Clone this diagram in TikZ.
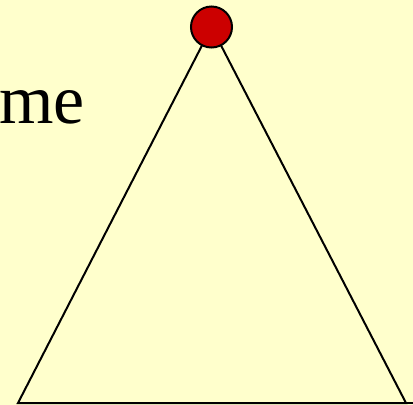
\documentclass[tikz,border=0pt]{standalone}
\usepackage{fontspec}
\setmainfont{Liberation Serif}
\definecolor{bg}{HTML}{FFFFCC}
\definecolor{ballred}{HTML}{CC0000}
\begin{document}
\begin{tikzpicture}[x=1bp,y=-1bp,
  edge/.style={draw=black,line width=2bp},
  ball/.style={circle,draw=black,line width=2bp,fill=ballred,minimum size=41bp,inner sep=0pt}]
\fill[bg] (0,0) rectangle (413,405);
\useasboundingbox (0,0) rectangle (413,405);
\coordinate (bl) at (18,403);
\coordinate (br) at (406,403);
\coordinate (apex) at (211.5,27);
\draw[edge,line join=miter] (bl) -- (apex) -- (br) -- cycle;
\draw[edge] (br) -- (414,403);
\node[ball] (top) at (apex) {};
\node[anchor=base west,inner sep=0pt,font=\fontsize{70bp}{80bp}\selectfont] (txt) at (-1,123) {me};
\end{tikzpicture}
\end{document}
